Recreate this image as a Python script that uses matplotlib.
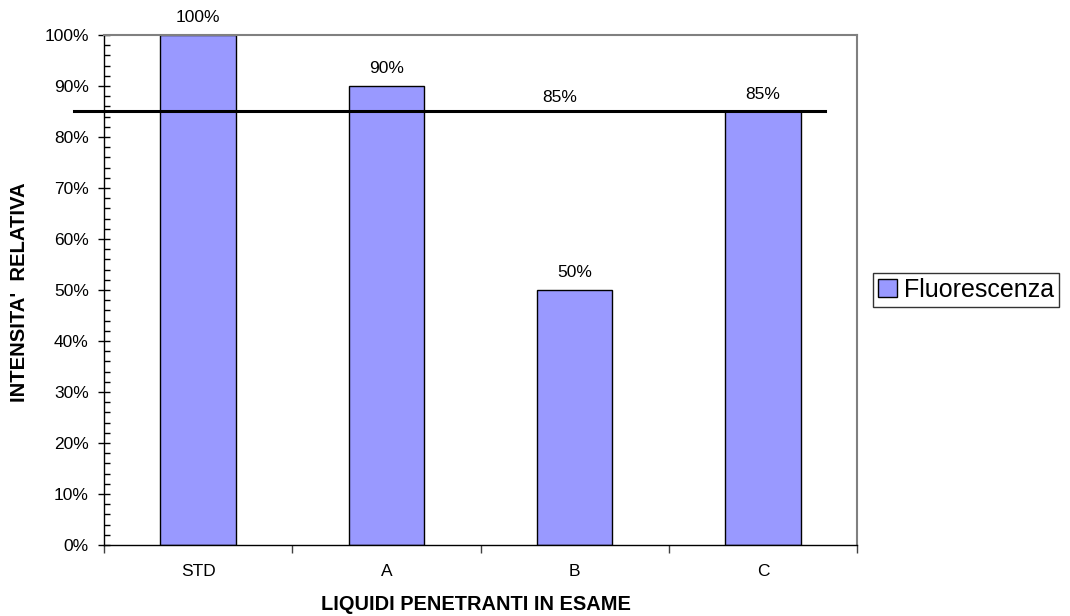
import matplotlib
matplotlib.use("Agg")
import matplotlib.pyplot as plt
from matplotlib.ticker import MultipleLocator, FixedLocator, FuncFormatter

plt.rcParams['font.family'] = ['Liberation Sans', 'DejaVu Sans']

categories = ["STD", "A", "B", "C"]
fluorescenza = [100, 90, 50, 85]
soglia = 85
soglia_label_pos = 1.92

fig = plt.figure(figsize=(10.7, 6.16), dpi=100)
ax = fig.add_axes([0.0972, 0.1153, 0.7038, 0.8279])

x = list(range(len(categories)))
bars = ax.bar(x, fluorescenza, width=0.4, color="#9999FF", edgecolor="black",
              linewidth=1.0, label="Fluorescenza", zorder=2)

for xi, v in zip(x, fluorescenza):
    ax.text(xi, v + 1.9, f"{v}%", ha="center", va="bottom", fontsize=12.5)

# threshold line across the categories
ax.plot([-0.66, 3.33], [soglia, soglia], color="black", linewidth=2.2,
        clip_on=False, zorder=3)
ax.text(soglia_label_pos, soglia + 1.2, f"{soglia}%", ha="center", va="bottom", fontsize=12.5)

ax.set_xlim(-0.5, len(categories) - 0.5)
ax.set_ylim(0, 100)

ax.yaxis.set_major_locator(MultipleLocator(10))
ax.yaxis.set_minor_locator(MultipleLocator(2))
ax.yaxis.set_major_formatter(FuncFormatter(lambda v, p: f"{int(round(v))}%"))
ax.tick_params(axis="y", which="major", direction="inout", length=8, width=1,
               labelsize=12.5, pad=7)
ax.tick_params(axis="y", which="minor", direction="in", length=4, width=1)

ax.xaxis.set_major_locator(FixedLocator(x))
ax.xaxis.set_major_formatter(FuncFormatter(lambda v, p: categories[int(round(v))]))
ax.xaxis.set_minor_locator(FixedLocator([i - 0.5 for i in range(len(categories) + 1)]))
ax.tick_params(axis="x", which="major", length=0, labelsize=12.5, pad=13.5)
ax.tick_params(axis="x", which="minor", direction="out", length=6, width=1,
               color="#404040")

for side in ("top", "right"):
    ax.spines[side].set_color("#808080")
    ax.spines[side].set_linewidth(1.5)
for side in ("left", "bottom"):
    ax.spines[side].set_color("black")
    ax.spines[side].set_linewidth(1.0)

ax.set_xlabel("LIQUIDI PENETRANTI IN ESAME", fontsize=14.4, fontweight="bold")
ax.set_ylabel("INTENSITA'  RELATIVA", fontsize=14.6, fontweight="bold")
ax.xaxis.label.set_verticalalignment("center")
ax.yaxis.label.set_verticalalignment("center")
ax.xaxis.set_label_coords(0.494, -60 / 510)
ax.yaxis.set_label_coords(-84 / 753, 0.496)

leg = fig.legend(handles=[bars], labels=["Fluorescenza"], loc="center",
                 bbox_to_anchor=(0.9028, 0.530), fontsize=18, frameon=True,
                 fancybox=False, edgecolor="black", handlelength=0.75,
                 handleheight=0.75, handletextpad=0.3, borderpad=0.2,
                 borderaxespad=0)
leg.get_frame().set_linewidth(1.0)

fig.savefig("out.png", dpi=100, facecolor="white")
